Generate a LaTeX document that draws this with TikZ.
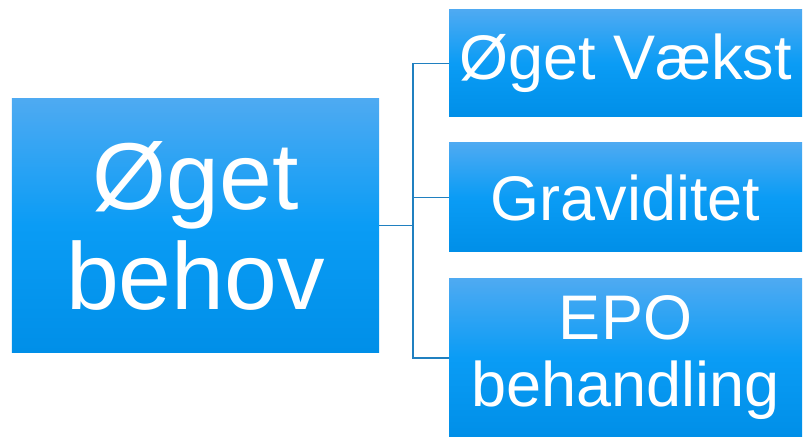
\documentclass[tikz,border=0pt]{standalone}
\usepackage{fontspec}
\setmainfont{Liberation Sans}
\definecolor{btop}{RGB}{78,170,242}
\definecolor{bmid}{RGB}{10,156,245}
\definecolor{bbot}{RGB}{0,143,232}
\definecolor{conn}{RGB}{32,128,192}
\tikzset{
  box/.style={rectangle, inner sep=0pt, top color=btop, bottom color=bbot, middle color=bmid, text=white, align=center},
  bigtxt/.style={font=\fontsize{95bp}{100bp}\selectfont},
  smalltxt/.style={font=\fontsize{63bp}{67bp}\selectfont},
  connector/.style={draw=conn, line width=1.2bp}
}
\begin{document}
\begin{tikzpicture}[x=1bp,y=-1bp]
\useasboundingbox (0,0) rectangle (803,437);
\node[box, bigtxt, minimum width=367bp, minimum height=253bp] (L) at (195.5,225.5) {Øget\\behov};
\node[box, smalltxt, minimum width=353bp, minimum height=107bp] (A) at (625.5,63.5) {Øget Vækst};
\node[box, smalltxt, minimum width=353bp, minimum height=109bp] (B) at (625.5,197.5) {Graviditet};
\node[box, smalltxt, minimum width=353bp, minimum height=158bp] (C) at (625.5,358) {EPO\\behandling};
\coordinate (j) at (413,225.5);
\draw[connector] (L.east) -- (j);
\draw[connector] (j) |- (A.west);
\draw[connector] (j) |- (B.west);
\draw[connector] (j) |- (C.west);
\end{tikzpicture}
\end{document}
